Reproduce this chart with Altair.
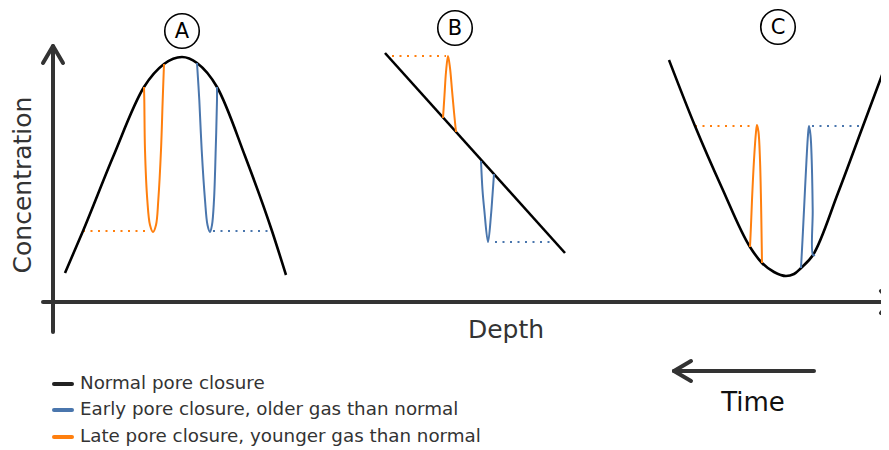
import altair as alt
import pandas as pd

# ---------------- data ----------------
# Normal pore closure curves (depth, concentration in drawing units)
A_norm_x = [65, 83, 113, 144, 164, 182, 197, 217, 245, 272, 286]
A_norm_y = [273, 231, 157, 87, 64, 57, 63, 87, 156, 231, 275]
B_norm_x = [385, 565]
B_norm_y = [53, 253]
C_norm_x = [669, 695, 722, 750, 762, 774, 786, 794, 801, 813, 838, 863, 888]
C_norm_y = [60, 126, 188, 247, 263, 272, 276, 274, 268, 255, 193, 126, 59]

# Late pore closure excursions (orange)
A_late_x = [144, 144.3, 145, 147.3, 150, 153, 156, 158.3, 161, 162.7, 164]
A_late_y = [87, 100, 150, 200, 225, 232, 225, 200, 150, 100, 64]
B_late_x = [443, 444.5, 446, 448, 450, 452, 454, 456]
B_late_y = [118, 95, 72, 56, 68, 90, 112, 132]
C_late_x = [750, 751, 752, 754, 756, 757, 758.5, 760, 761, 761.5, 762]
C_late_y = [247, 225, 200, 160, 132, 125, 132, 160, 200, 230, 263]

# Early pore closure excursions (blue)
A_early_x = [197, 199.3, 201.7, 205, 207.5, 210, 212, 214, 215.7, 217, 217]
A_early_y = [63, 100, 150, 200, 225, 232, 225, 200, 150, 100, 87]
B_early_x = [481, 482.5, 484.3, 488, 491, 492.5, 494]
B_early_y = [161, 190, 210, 242, 215, 195, 174]
C_early_x = [801, 802.5, 804, 806.5, 808, 809, 810.5, 811.7, 812.7, 813, 815]
C_early_y = [268, 240, 210, 160, 135, 126, 135, 160, 210, 255, 255]

# Dotted reference levels: (x_start, x_end, y)
late_levels = [(83, 150, 231), (392, 446, 56), (695, 755, 126)]
early_levels = [(213, 272, 231), (495, 550, 242), (812, 863, 126)]

legend_labels = ["Normal pore closure",
                 "Early pore closure, older gas than normal",
                 "Late pore closure, younger gas than normal"]
panel_labels = ["A", "B", "C"]

BLACK = "#000000"
BLUE = "#4a76ad"
ORANGE = "#ff7f0e"
DARK = "#333333"


def build(segs):
    rows = []
    for name, kind, xs, ys in segs:
        for i, (x, y) in enumerate(zip(xs, ys)):
            rows.append({"seg": name, "kind": kind, "ord": i, "x": x, "y": y})
    return pd.DataFrame(rows)


normal_df = build([("A", "normal", A_norm_x, A_norm_y),
                   ("B", "normal", B_norm_x, B_norm_y),
                   ("C", "normal", C_norm_x, C_norm_y)])
exc_df = build([("Al", "late", A_late_x, A_late_y),
                ("Bl", "late", B_late_x, B_late_y),
                ("Cl", "late", C_late_x, C_late_y),
                ("Ae", "early", A_early_x, A_early_y),
                ("Be", "early", B_early_x, B_early_y),
                ("Ce", "early", C_early_x, C_early_y)])
lvl = []
for kind, levels in (("late", late_levels), ("early", early_levels)):
    for j, (x0, x1, y) in enumerate(levels):
        lvl.append((kind + str(j), kind, [x0, x1], [y, y]))
lvl_df = build(lvl)

X = alt.X("x:Q", scale=alt.Scale(domain=[8, 881], nice=False, zero=False), axis=None)
Y = alt.Y("y:Q", scale=alt.Scale(domain=[8, 442], reverse=True, nice=False, zero=False), axis=None)
COL = alt.Color("kind:N", scale=alt.Scale(domain=["early", "late"], range=[BLUE, ORANGE]), legend=None)

normal = alt.Chart(normal_df).mark_line(color=BLACK, strokeWidth=2.6, interpolate="monotone").encode(
    x=X, y=Y, detail="seg:N", order="ord:Q")
exc = alt.Chart(exc_df).mark_line(strokeWidth=2, interpolate="catmull-rom").encode(
    x=X, y=Y, color=COL, detail="seg:N", order="ord:Q")
dots = alt.Chart(lvl_df).mark_line(strokeWidth=1.8, strokeDash=[2, 5.5]).encode(
    x=X, y=Y, color=COL, detail="seg:N", order="ord:Q")

one = pd.DataFrame({"k": [0]})


def seg(x1, y1, x2, y2, color=DARK, width=4):
    return alt.Chart(one).mark_rule(color=color, strokeWidth=width, strokeCap="round").encode(
        x=alt.value(x1 - 8), y=alt.value(y1 - 8), x2=alt.value(x2 - 8), y2=alt.value(y2 - 8))


def txt(s, x, y, size, color=DARK, angle=0, align="center"):
    return alt.Chart(one).mark_text(text=s, font="DejaVu Sans", fontSize=size, color=color,
                                    angle=angle, align=align, baseline="middle").encode(
        x=alt.value(x - 8), y=alt.value(y - 8))


deco = [
    # vertical axis with arrow
    seg(53, 47, 53, 332), seg(43, 63, 53, 46), seg(63, 63, 53, 46),
    # horizontal axis with arrow
    seg(43, 302, 890, 302), seg(881, 291, 891, 302), seg(881, 313, 891, 302),
    # time arrow
    seg(674, 371, 814, 371), seg(691, 361, 674, 371), seg(691, 381, 674, 371),
    # legend swatches
    seg(54, 384, 72, 384, "#222222", 4), seg(54, 410, 72, 410, BLUE, 4), seg(54, 437, 72, 437, ORANGE, 4),
]

texts = [
    txt("Concentration", 23, 185, 25, angle=270),
    txt("Depth", 506, 330, 25),
    txt("Time", 753, 403, 26, color="#111111"),
    txt(legend_labels[0], 80, 384, 18.3, align="left"),
    txt(legend_labels[1], 80, 410, 18.3, align="left"),
    txt(legend_labels[2], 80, 437, 18.3, align="left"),
]

circle_pos = [(182, 31), (455, 28), (778, 27)]
circles = []
for lab, (cx, cy) in zip(panel_labels, circle_pos):
    circles.append(alt.Chart(one).mark_point(shape="circle", filled=False, size=1190,
                                             color=BLACK, strokeWidth=1.6, opacity=1).encode(
        x=alt.value(cx - 8), y=alt.value(cy - 8)))
    circles.append(txt(lab, cx, cy + 1, 21, color=BLACK))

chart = alt.layer(dots, normal, exc, *deco, *texts, *circles).properties(
    width=873, height=434,
    autosize=alt.AutoSizeParams(type="none"),
    padding={"left": 0, "top": 0, "right": 0, "bottom": 8},
).configure_view(stroke=None)

chart.save("out.html", embed_options={"renderer": "svg", "actions": False})
